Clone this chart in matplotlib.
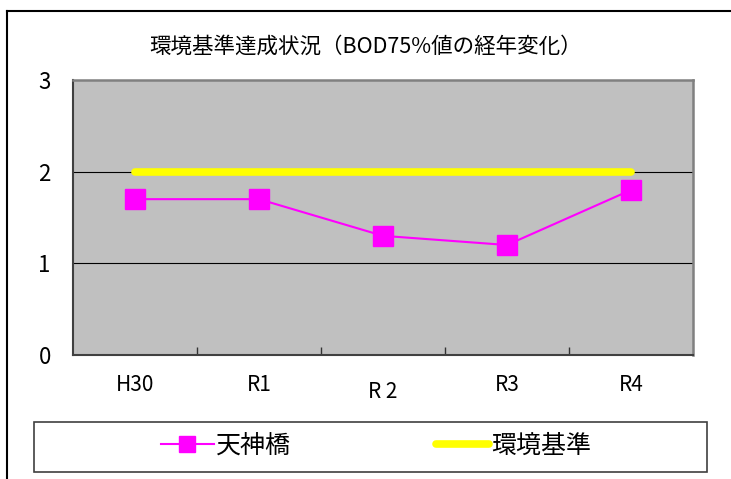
import numpy as np
import matplotlib.pyplot as plt
import matplotlib.transforms as mtransforms
from matplotlib.patches import Rectangle
from matplotlib.lines import Line2D

plt.rcParams['font.family'] = ['Noto Sans CJK JP', 'DejaVu Sans']

years = ['H30', 'R1', 'R 2', 'R3', 'R4']
tenjinbashi = [1.7, 1.7, 1.3, 1.2, 1.8]
standard = [2, 2, 2, 2, 2]
title = '環境基準達成状況（BOD75%値の経年変化）'

fig = plt.figure(figsize=(7.31, 4.79), dpi=100)
ax = fig.add_axes([73/731, 1-355/479, 620/731, 275/479])
ax.set_facecolor('#c0c0c0')

x = np.arange(len(years))
ax.plot(x, standard, color='#ffff00', lw=5.5, solid_capstyle='round', zorder=3, label='環境基準')
ax.plot(x, tenjinbashi, color='#ff00ff', lw=1.5, marker='s', ms=14, mec='#ff00ff',
        zorder=4, label='天神橋')

ax.set_xlim(-0.5, len(years) - 0.5)
ax.set_ylim(0, 3)
ax.set_yticks([0, 1, 2, 3])
ax.tick_params(axis='y', length=0, pad=16, labelsize=16)
for yv in [1, 2]:
    ax.axhline(yv, color='black', lw=0.8, zorder=2)

ax.set_xticks(x)
ax.set_xticklabels(years)
ax.tick_params(axis='x', which='major', length=0, pad=14, labelsize=15)
ax.set_xticks(np.arange(len(years) - 1) + 0.5, minor=True)
ax.tick_params(axis='x', which='minor', direction='in', length=6, width=1, color='#333333')
lbl = ax.get_xticklabels()[2]
lbl.set_transform(lbl.get_transform() + mtransforms.ScaledTranslation(0, -5/72, fig.dpi_scale_trans))

ax.spines['left'].set_color('#404040')
ax.spines['left'].set_linewidth(1.5)
ax.spines['bottom'].set_color('#404040')
ax.spines['bottom'].set_linewidth(1.5)
ax.spines['top'].set_color('#808080')
ax.spines['top'].set_linewidth(1.8)
ax.spines['right'].set_color('#808080')
ax.spines['right'].set_linewidth(1.8)

fig.text(366/731, 1-47/479, title, ha='center', va='center', fontsize=15.5)

# legend frame and entries
fig.patches.append(Rectangle((34/731, 7/479), 673/731, 50/479, transform=fig.transFigure,
                             fill=False, ec='#404040', lw=1.2))
h, l = ax.get_legend_handles_labels()
fig.legend([h[1], h[0]], [l[1], l[0]], loc='center', bbox_to_anchor=(376/731, 1-446/479),
           ncol=2, frameon=False, fontsize=18, handlelength=2.1, handletextpad=0.1,
           columnspacing=5.8, markerscale=0.85)

# outer border (left and top only)
fig.lines.append(Line2D([7/731, 7/731], [0, 1-11/479], transform=fig.transFigure,
                        color='black', lw=1.5))
fig.lines.append(Line2D([7/731, 1], [1-11/479, 1-11/479], transform=fig.transFigure,
                        color='black', lw=1.5))

fig.savefig('out.png', dpi=100)
